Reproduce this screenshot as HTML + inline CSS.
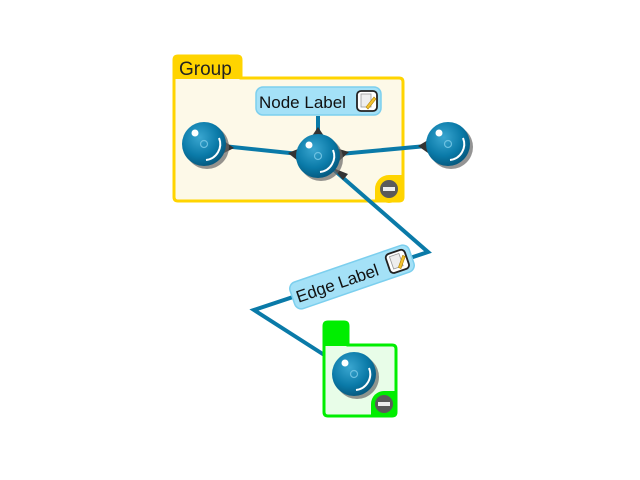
<!DOCTYPE html>
<html><head><meta charset="utf-8"><style>
html,body{margin:0;padding:0;background:#fff;}
svg{display:block;}
text{font-family:"Liberation Sans",sans-serif;}
</style></head><body>
<svg width="640" height="480" viewBox="0 0 640 480" xmlns="http://www.w3.org/2000/svg">
<defs>
<radialGradient id="ball" cx="0.4" cy="0.35" r="0.7">
<stop offset="0" stop-color="#3aa6d0"/><stop offset="0.6" stop-color="#0a7aa8"/><stop offset="1" stop-color="#05557a"/>
</radialGradient>
<g id="node">
<circle cx="3" cy="3" r="22" fill="#666" opacity="0.7"/>
<circle cx="0" cy="0" r="22" fill="url(#ball)"/>
<circle cx="-9" cy="-11" r="3.5" fill="#fff"/>
<circle cx="0" cy="0" r="3.5" fill="none" stroke="#6cc0e0" stroke-width="1.2"/>
<path d="M15,-6 A16,16 0 0 1 2,16" fill="none" stroke="#fff" stroke-width="2"/>
</g>
<g id="btn">
<circle r="9" fill="#5a5a5a"/>
<rect x="-6" y="-2" width="12" height="4" fill="#eee"/>
</g>
<g id="icon">
<rect x="-10" y="-10" width="20" height="20" rx="4" fill="#fff" stroke="#222" stroke-width="1.8"/>
<rect x="-6" y="-7" width="10" height="13" fill="#eee" stroke="#999" stroke-width="0.8"/>
<path d="M-1,6 L7,-4 L9,-2 L1,8 Z" fill="#f2c230" stroke="#b08000" stroke-width="0.6"/>
</g>
</defs>

<path d="M174,78 V60 Q174,56 178,56 H237 Q241,56 241,60 V78 H399 Q403,78 403,82 V197 Q403,201 399,201 H178 Q174,201 174,197 Z" fill="#fdf9e8" stroke="#ffd400" stroke-width="3"/>
<rect x="175" y="57" width="65" height="22" fill="#ffd400"/>
<text x="179" y="75" font-size="19" fill="#222">Group</text>
<circle cx="389" cy="189" r="14" fill="#ffd400"/>
<rect x="389" y="175" width="14" height="26" fill="#ffd400"/>
<rect x="375" y="189" width="28" height="12" fill="#ffd400"/>
<use href="#btn" x="389" y="189"/>

<g stroke="#0a7aa8" stroke-width="4" fill="none">
<line x1="204" y1="144" x2="318" y2="156"/>
<line x1="318" y1="156" x2="448" y2="144"/>
<line x1="318" y1="116" x2="318" y2="156"/>
<polyline points="318,156 428,252 254,310 354,374"/>
</g>
<g fill="#333">
<path d="M224,141 L234,148 L224,153 Z"/>
<path d="M298,149 L288,153 L298,161 Z"/>
<path d="M339,149 L349,152 L339,161 Z"/>
<path d="M428,140 L418,146 L428,153 Z"/>
<path d="M312,136 L318,127 L324,136 Z"/>
<path d="M333,168 L343,180 L348,174 Z"/>
<path d="M327,354 L339,354 L334,363 Z"/>
</g>

<rect x="256" y="87" width="125" height="28" rx="7" fill="#a4e1f7" stroke="#7ccfee" stroke-width="1.5"/>
<text x="259" y="108" font-size="17" fill="#111">Node Label</text>
<use href="#icon" x="367" y="101"/>

<use href="#node" x="204" y="144"/>
<use href="#node" x="318" y="156"/>
<use href="#node" x="448" y="144"/>

<g transform="translate(352,277) rotate(-19)">
<rect x="-63" y="-14" width="126" height="28" rx="7" fill="#a4e1f7" stroke="#7ccfee" stroke-width="1.5"/>
<text x="-59" y="7" font-size="17" fill="#111">Edge Label</text>
<use href="#icon" x="48" y="0"/>
</g>

<path d="M324,345 V326 Q324,322 328,322 H344 Q348,322 348,326 V345 H392 Q396,345 396,349 V412 Q396,416 392,416 H328 Q324,416 324,412 Z" fill="#e8fde8" stroke="#00ee00" stroke-width="3"/>
<rect x="325" y="323" width="22" height="23" fill="#00ee00"/>
<circle cx="384" cy="404" r="13" fill="#00ee00"/>
<rect x="384" y="391" width="12" height="25" fill="#00ee00"/>
<rect x="371" y="404" width="25" height="12" fill="#00ee00"/>
<use href="#btn" x="384" y="404"/>
<use href="#node" x="354" y="374"/>
</svg>
</body></html>
